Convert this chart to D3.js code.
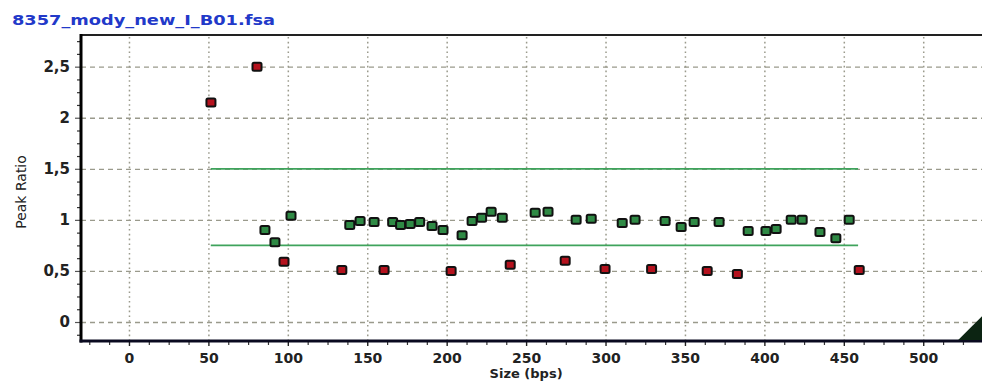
<!DOCTYPE html>
<html>
<head>
<meta charset="utf-8">
<script src="https://cdn.jsdelivr.net/npm/d3@7"></script>
<style>
  html, body { margin: 0; padding: 0; background: #fff; }
  svg { display: block; }
</style>
</head>
<body>
<svg id="chart" width="982" height="382"></svg>
<script>
// data
const chartTitle = '8357_mody_new_I_B01.fsa';
const xLabel = 'Size (bps)';
const yLabel = 'Peak Ratio';

const xTicks = [0, 50, 100, 150, 200, 250, 300, 350, 400, 450, 500];
const yTicks = [0, 0.5, 1, 1.5, 2, 2.5];
const yTickLabels = ['0', '0,5', '1', '1,5', '2', '2,5'];

// normal peaks (green)
const normalSizes = [85.6, 91.9, 102, 139, 145.5, 154.3, 166, 171, 177, 183, 190.8, 197.7, 209.7, 216, 222, 228, 235,
    255.7, 263.8, 281.5, 291, 310.5, 318.6, 337.5, 347.6, 355.8, 371.5, 389.8, 401, 407.4, 416.9, 423.8, 435, 445, 453.4];
const normalRatios = [0.90, 0.78, 1.04, 0.95, 0.99, 0.98, 0.98, 0.95, 0.96, 0.98, 0.94, 0.90, 0.85, 0.99, 1.02, 1.08, 1.02,
    1.07, 1.08, 1.00, 1.01, 0.97, 1.00, 0.99, 0.93, 0.98, 0.98, 0.89, 0.89, 0.91, 1.00, 1.00, 0.88, 0.82, 1.00];

// outlier peaks (red)
const outlierSizes = [51.6, 80.6, 97.6, 134, 160.6, 202.8, 240, 274.6, 299.7, 329, 364, 383, 459.7];
const outlierRatios = [2.15, 2.50, 0.59, 0.51, 0.51, 0.50, 0.56, 0.60, 0.52, 0.52, 0.50, 0.47, 0.51];

// threshold lines
const thresholdValues = [1.5, 0.75];
const thresholdRange = [51.5, 459];

const width = 982;
const height = 382;
const plot = { left: 81, right: 982, top: 35, bottom: 341 };

const svg = d3.select('#chart');

const x = d3.scaleLinear().domain([-30.2, 537]).range([plot.left, plot.right]);
const y = d3.scaleLinear().domain([-0.186, 2.81]).range([plot.bottom, plot.top]);

const gridColor = '#9a9a8c';
const tickFont = 'DejaVu Sans, Verdana, sans-serif';

// horizontal dashed grid
const gGridY = svg.append('g').attr('transform', `translate(${plot.left},0)`)
    .call(d3.axisLeft(y).tickValues(yTicks).tickSize(-(plot.right - plot.left)).tickFormat(''));
gGridY.select('.domain').remove();
gGridY.selectAll('line')
    .attr('stroke', gridColor)
    .attr('stroke-width', 1.3)
    .attr('stroke-dasharray', '5,4');

// vertical dotted grid
const gGridX = svg.append('g').attr('transform', `translate(0,${plot.bottom})`)
    .call(d3.axisBottom(x).tickValues(xTicks).tickSize(-(plot.bottom - plot.top)).tickFormat(''));
gGridX.select('.domain').remove();
gGridX.selectAll('line')
    .attr('stroke', gridColor)
    .attr('stroke-width', 1.5)
    .attr('stroke-dasharray', '1.6,3.2');

// threshold lines
svg.append('g').selectAll('line')
    .data(thresholdValues)
    .enter()
    .append('line')
    .attr('x1', x(thresholdRange[0]))
    .attr('x2', x(thresholdRange[1]))
    .attr('y1', d => y(d))
    .attr('y2', d => y(d))
    .attr('stroke', '#3fa35c')
    .attr('stroke-width', 1.8);

// peaks
const drawPeaks = (sizes, ratios, fill) => {
    svg.append('g').selectAll('rect')
        .data(sizes.map((s, i) => ({ size: s, ratio: ratios[i] })))
        .enter()
        .append('rect')
        .attr('x', d => x(d.size) - 4.5)
        .attr('y', d => y(d.ratio) - 4)
        .attr('width', 9)
        .attr('height', 8)
        .attr('rx', 1.5)
        .attr('fill', fill)
        .attr('stroke', '#111')
        .attr('stroke-width', 2);
};
drawPeaks(normalSizes, normalRatios, '#2f8a45');
drawPeaks(outlierSizes, outlierRatios, '#b5121e');

// y axis
const gAxisY = svg.append('g').attr('transform', `translate(${plot.left},0)`)
    .call(d3.axisLeft(y).tickValues(yTicks).tickSizeInner(6).tickSizeOuter(0).tickPadding(5)
        .tickFormat((d, i) => yTickLabels[i]));
gAxisY.select('.domain').remove();
gAxisY.selectAll('line').attr('stroke', '#555').attr('stroke-width', 1.2);
gAxisY.selectAll('text')
    .attr('font-family', tickFont)
    .attr('font-weight', 'bold')
    .attr('font-size', 15)
    .attr('fill', '#222');

// y minor ticks
const yMinor = d3.range(-0.125, 2.8, 0.125).filter(v => !yTicks.some(t => Math.abs(t - v) < 1e-6));
const gMinorY = svg.append('g').attr('transform', `translate(${plot.left},0)`)
    .call(d3.axisLeft(y).tickValues(yMinor).tickSize(4).tickFormat(''));
gMinorY.select('.domain').remove();
gMinorY.selectAll('line').attr('stroke', '#333').attr('stroke-width', 1.2);

// x axis
const gAxisX = svg.append('g').attr('transform', `translate(0,${plot.bottom})`)
    .call(d3.axisBottom(x).tickValues(xTicks).tickSizeInner(5).tickSizeOuter(0).tickPadding(7));
gAxisX.select('.domain').remove();
gAxisX.selectAll('line').attr('stroke', '#222').attr('stroke-width', 1.4);
gAxisX.selectAll('text')
    .attr('font-family', tickFont)
    .attr('font-weight', 'bold')
    .attr('font-size', 14)
    .attr('fill', '#222');

// x minor ticks
const xMinor = d3.range(-25, 537, 12.5).filter(v => v % 50 !== 0);
const gMinorX = svg.append('g').attr('transform', `translate(0,${plot.bottom})`)
    .call(d3.axisBottom(x).tickValues(xMinor).tickSize(4).tickFormat(''));
gMinorX.select('.domain').remove();
gMinorX.selectAll('line').attr('stroke', '#333').attr('stroke-width', 1.2);

// frame
svg.append('line')
    .attr('x1', plot.left).attr('x2', plot.right)
    .attr('y1', plot.top).attr('y2', plot.top)
    .attr('stroke', '#222').attr('stroke-width', 2);
svg.append('line')
    .attr('x1', plot.left).attr('x2', plot.left)
    .attr('y1', plot.top - 1).attr('y2', plot.bottom + 1.5)
    .attr('stroke', '#000').attr('stroke-width', 3);
svg.append('line')
    .attr('x1', plot.left - 1.5).attr('x2', plot.right)
    .attr('y1', plot.bottom).attr('y2', plot.bottom)
    .attr('stroke', '#0a0a20').attr('stroke-width', 3);

// scroll marker in the corner
const triStart = x(522);
const triHeight = plot.right - triStart;
svg.append('path')
    .attr('d', `M${triStart},${plot.bottom - 1} L${plot.right},${plot.bottom - 1} L${plot.right},${plot.bottom - 1 - triHeight} Z`)
    .attr('fill', '#0c2412');

// title
svg.append('text')
    .attr('x', 12)
    .attr('y', 25)
    .attr('font-family', tickFont)
    .attr('font-weight', 'bold')
    .attr('font-size', 14)
    .attr('fill', '#2239c9')
    .attr('textLength', 263)
    .attr('lengthAdjust', 'spacingAndGlyphs')
    .text(chartTitle);

// axis titles
svg.append('text')
    .attr('transform', 'translate(26,192) rotate(-90)')
    .attr('text-anchor', 'middle')
    .attr('font-family', tickFont)
    .attr('font-size', 14)
    .attr('fill', '#222')
    .text(yLabel);

svg.append('text')
    .attr('x', x(250))
    .attr('y', 378)
    .attr('text-anchor', 'middle')
    .attr('font-family', tickFont)
    .attr('font-weight', 'bold')
    .attr('font-size', 13)
    .attr('fill', '#222')
    .text(xLabel);
</script>
</body>
</html>
